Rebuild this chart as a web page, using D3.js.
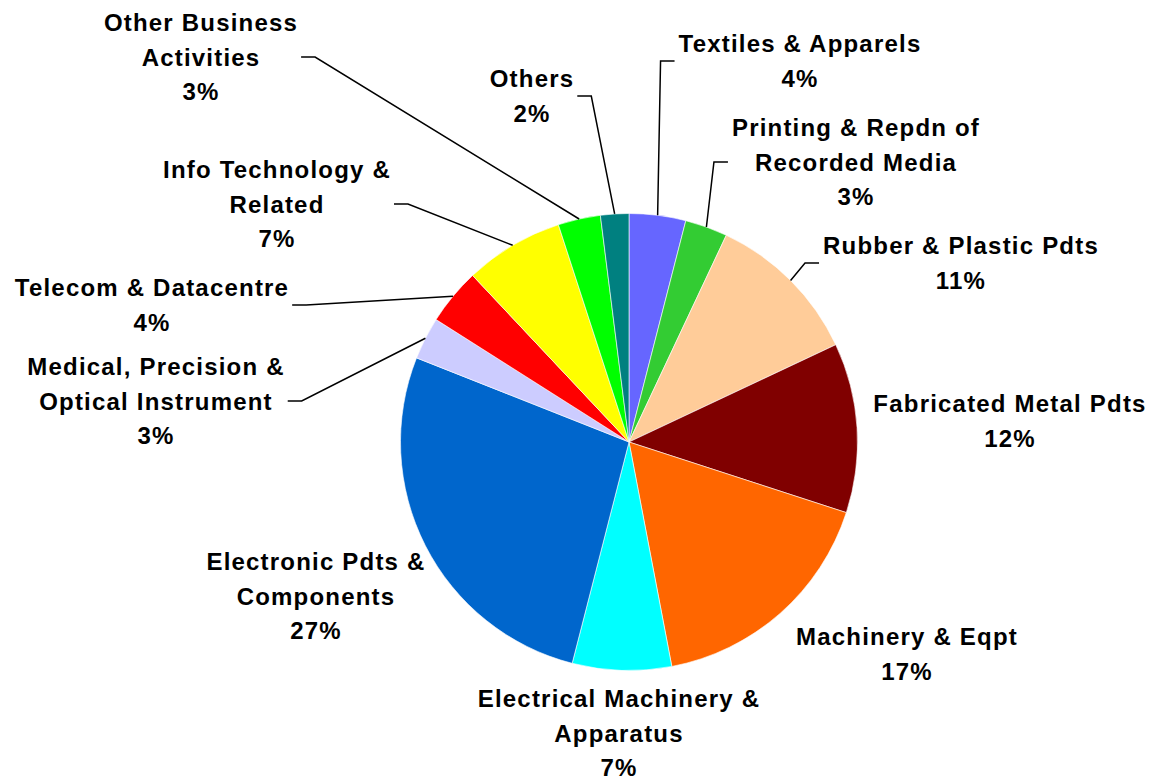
<!DOCTYPE html>
<html>
<head>
<meta charset="utf-8">
<script src="https://cdn.jsdelivr.net/npm/d3@7"></script>
<style>
  html, body { margin: 0; padding: 0; background: #ffffff; }
  svg { display: block; }
</style>
</head>
<body>
<svg id="chart" width="1153" height="780"></svg>
<script>
// Sector shares (%) listed clockwise from 12 o'clock
const categories = [
  "Textiles & Apparels",
  "Printing & Repdn of Recorded Media",
  "Rubber & Plastic Pdts",
  "Fabricated Metal Pdts",
  "Machinery & Eqpt",
  "Electrical Machinery & Apparatus",
  "Electronic Pdts & Components",
  "Medical, Precision & Optical Instrument",
  "Telecom & Datacentre",
  "Info Technology & Related",
  "Other Business Activities",
  "Others"
];
const shares = [4, 3, 11, 12, 17, 7, 27, 3, 4, 7, 3, 2];

// How each category name wraps in its label
const labelLines = [
  ["Textiles & Apparels"],
  ["Printing & Repdn of", "Recorded Media"],
  ["Rubber & Plastic Pdts"],
  ["Fabricated Metal Pdts"],
  ["Machinery & Eqpt"],
  ["Electrical Machinery &", "Apparatus"],
  ["Electronic Pdts &", "Components"],
  ["Medical, Precision &", "Optical Instrument"],
  ["Telecom & Datacentre"],
  ["Info Technology &", "Related"],
  ["Other Business", "Activities"],
  ["Others"]
];

const sliceColors = [
  "#6666FF", "#33CC33", "#FFCC99", "#800000", "#FF6600", "#00FFFF",
  "#0066CC", "#CCCCFF", "#FF0000", "#FFFF00", "#00FF00", "#008080"
];

// Label block placement: centre x, middle y, and which side the leader leaves from
const labelLayout = [
  { cx: 800,  cy: 61,  leader: "left"  },
  { cx: 856,  cy: 162, leader: "left"  },
  { cx: 961,  cy: 263, leader: "left"  },
  { cx: 1010, cy: 421, leader: null    },
  { cx: 907,  cy: 654, leader: null    },
  { cx: 619,  cy: 733, leader: null    },
  { cx: 316,  cy: 596, leader: null    },
  { cx: 156,  cy: 401, leader: "right" },
  { cx: 152,  cy: 305, leader: "right" },
  { cx: 277,  cy: 204, leader: "right" },
  { cx: 201,  cy: 57,  leader: "right" },
  { cx: 532,  cy: 96,  leader: "right" }
];

const center = { x: 629, y: 442 };
const radius = 228.5;
const fontSize = 24;
const lineGap = 34.5;

const svg = d3.select("#chart");

const pie = d3.pie().sort(null).value(d => d);
const arcs = pie(shares);

const arc = d3.arc().innerRadius(0).outerRadius(radius);
const edgeArc = d3.arc().innerRadius(radius).outerRadius(radius);

const pieG = svg.append("g").attr("transform", `translate(${center.x},${center.y})`);

pieG.selectAll("path.slice")
  .data(arcs)
  .join("path")
  .attr("class", "slice")
  .attr("d", arc)
  .attr("fill", (d, i) => sliceColors[i])
  .attr("stroke", "#ffffff")
  .attr("stroke-width", 0.6)
  .attr("stroke-linejoin", "round");

// Data labels: category name plus percentage, with leader lines where set
const labelG = svg.append("g")
  .attr("font-family", "'Liberation Sans', Arial, Helvetica, sans-serif")
  .attr("font-weight", "bold")
  .attr("font-size", fontSize)
  .attr("fill", "#000000");

const capHalf = fontSize * 0.716 / 2;

arcs.forEach((d, i) => {
  const lay = labelLayout[i];
  const lines = labelLines[i].concat([d3.format("d")(shares[i]) + "%"]);
  const n = lines.length;
  const t = labelG.append("text")
    .attr("text-anchor", "middle")
    .attr("letter-spacing", "1.2px");
  lines.forEach((ln, k) => {
    t.append("tspan")
      .attr("x", lay.cx)
      .attr("y", lay.cy + (k - (n - 1) / 2) * lineGap + capHalf)
      .text(ln);
  });

  if (lay.leader) {
    const bb = t.node().getBBox();
    const sx = lay.leader === "right" ? bb.x + bb.width + 3 : bb.x - 4;
    const stub = lay.leader === "right" ? 14 : -14;
    const [px, py] = edgeArc.centroid(d);
    const path = d3.path();
    path.moveTo(sx, lay.cy);
    path.lineTo(sx + stub, lay.cy);
    path.lineTo(center.x + px, center.y + py);
    svg.append("path")
      .attr("d", path.toString())
      .attr("fill", "none")
      .attr("stroke", "#000000")
      .attr("stroke-width", 1.5);
  }
});
</script>
</body>
</html>
